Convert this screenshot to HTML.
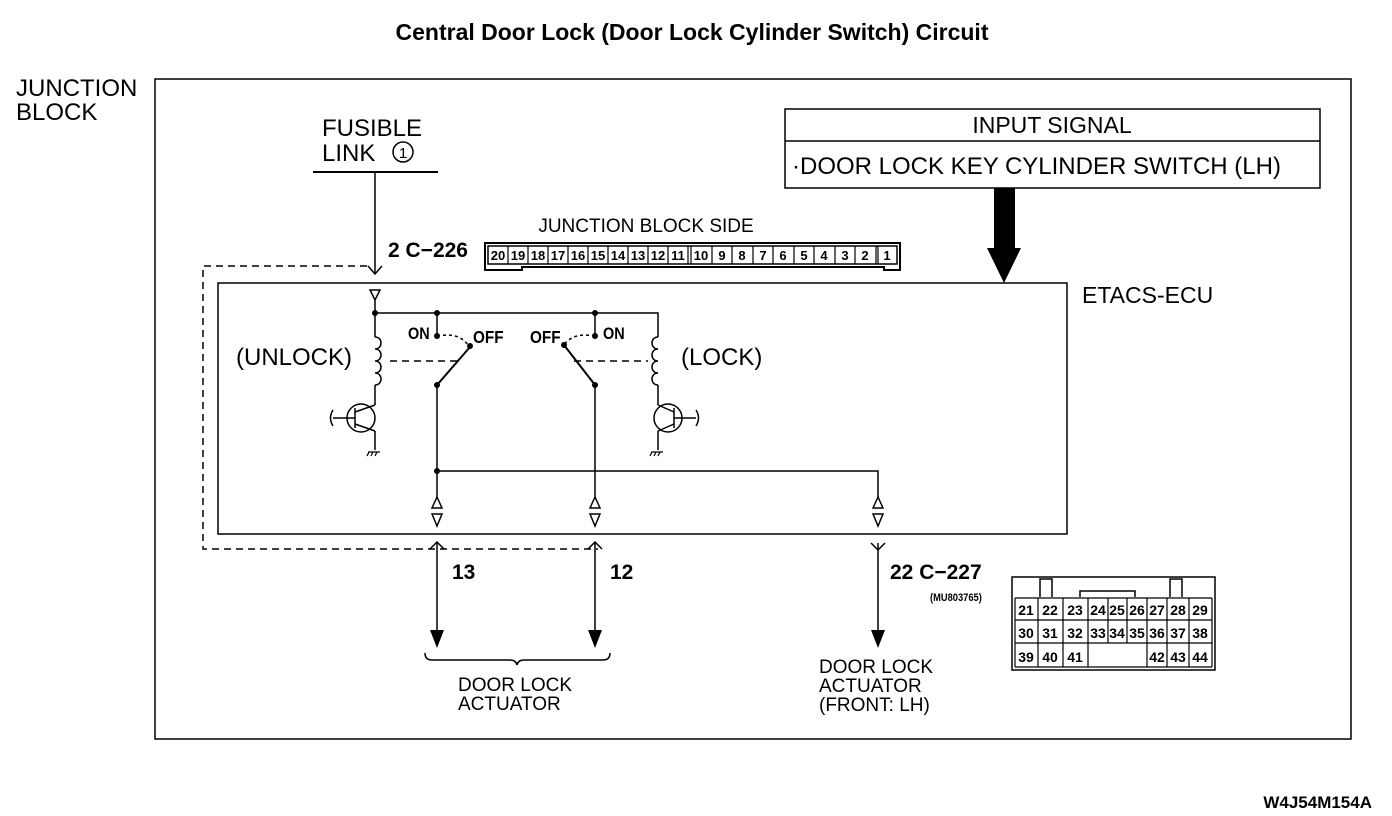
<!DOCTYPE html>
<html><head><meta charset="utf-8"><style>
html,body{margin:0;padding:0;background:#fff}
svg{display:block}
text{font-family:"Liberation Sans",sans-serif;fill:#000}
</style></head><body>
<svg width="1392" height="816" viewBox="0 0 1392 816" xmlns="http://www.w3.org/2000/svg">
<g fill="none" stroke="#000" stroke-width="1.5">
<rect x="155" y="79" width="1196" height="660"/>
<rect x="218" y="283" width="849" height="251"/>
<rect x="785" y="109" width="535" height="79"/>
<line x1="785" y1="141" x2="1320" y2="141"/>
<line x1="313" y1="172" x2="438" y2="172" stroke-width="2"/>
<line x1="375" y1="172" x2="375" y2="274"/>
<polyline points="368,266 375,274 382,266"/>
<circle cx="403" cy="152" r="10"/>
<polyline points="367,266 203,266 203,549 598,549" stroke-dasharray="7,5"/>
<polygon points="370,290 380,290 375,300"/>
<line x1="375" y1="300" x2="375" y2="313"/>
<polyline points="375,313 658,313 658,337"/>
<line x1="375" y1="313" x2="375" y2="337"/>
<path d="M375,337 c8,0 8,12 0,12 c8,0 8,12 0,12 c8,0 8,12 0,12 c8,0 8,12 0,12 M375,385 v20"/>
<path d="M658,337 c-8,0 -8,12 0,12 c-8,0 -8,12 0,12 c-8,0 -8,12 0,12 c-8,0 -8,12 0,12 M658,385 v20"/>
<circle cx="361" cy="418" r="14"/>
<line x1="355" y1="408" x2="355" y2="428"/>
<line x1="333" y1="418" x2="355" y2="418"/>
<path d="M333,410 q-5,8 0,16"/>
<line x1="355" y1="412" x2="375" y2="405"/>
<line x1="355" y1="424" x2="375" y2="431"/>
<line x1="375" y1="431" x2="375" y2="450"/>
<circle cx="668" cy="418" r="14"/>
<line x1="674" y1="408" x2="674" y2="428"/>
<line x1="674" y1="418" x2="696" y2="418"/>
<path d="M696,410 q5,8 0,16"/>
<line x1="674" y1="412" x2="658" y2="405"/>
<line x1="674" y1="424" x2="658" y2="431"/>
<line x1="658" y1="431" x2="658" y2="450"/>
<path d="M368,452 h12 M369,452 l-2,4 M373,452 l-2,4 M377,452 l-2,4" stroke-width="1.2"/>
<path d="M651,452 h12 M652,452 l-2,4 M656,452 l-2,4 M660,452 l-2,4" stroke-width="1.2"/>
<line x1="437" y1="313" x2="437" y2="336"/>
<line x1="595" y1="313" x2="595" y2="336"/>
<path d="M437,336 q22,-4 31,9" stroke-dasharray="3,3"/>
<path d="M595,336 q-22,-4 -31,9" stroke-dasharray="3,3"/>
<line x1="437" y1="385" x2="470" y2="347" stroke-width="2"/>
<line x1="595" y1="385" x2="564" y2="345" stroke-width="2"/>
<line x1="390" y1="361" x2="462" y2="361" stroke-dasharray="7,5"/>
<line x1="574" y1="361" x2="648" y2="361" stroke-dasharray="7,5"/>
<line x1="437" y1="385" x2="437" y2="497"/>
<line x1="595" y1="385" x2="595" y2="497"/>
<polyline points="437,471 878,471 878,497"/>
<polygon points="432,508 442,508 437,497"/>
<polygon points="432,514 442,514 437,526"/>
<polygon points="590,508 600,508 595,497"/>
<polygon points="590,514 600,514 595,526"/>
<polygon points="873,508 883,508 878,497"/>
<polygon points="873,514 883,514 878,526"/>
<polyline points="430,549 437,542 444,549"/>
<polyline points="588,549 595,542 602,549"/>
<polyline points="871,543 878,550 885,543"/>
<line x1="437" y1="542" x2="437" y2="632"/>
<line x1="595" y1="542" x2="595" y2="632"/>
<line x1="878" y1="543" x2="878" y2="632"/>
<path d="M425,653 q0,7 7,7 h78 q6,0 7,5 q1,-5 7,-5 h79 q7,0 7,-7"/>
<path d="M485,243 h415 v27 h-16 v-3 h-362 v3 h-37 z" stroke-width="2"/>
<rect x="488" y="246" width="409" height="18"/>
<rect x="1012" y="577" width="203" height="93"/>
<path d="M1040,597 v-18 h12 v18 M1170,597 v-18 h12 v18 M1080,597 v-6 h55 v6"/>
</g>
<g fill="#000">
<circle cx="375" cy="313" r="3"/><circle cx="437" cy="313" r="3"/><circle cx="595" cy="313" r="3"/>
<circle cx="437" cy="336" r="3"/><circle cx="595" cy="336" r="3"/>
<circle cx="470" cy="346" r="3"/><circle cx="564" cy="345" r="3"/>
<circle cx="437" cy="385" r="3"/><circle cx="595" cy="385" r="3"/>
<circle cx="437" cy="471" r="3"/>
<polygon points="430,630 444,630 437,648"/>
<polygon points="588,630 602,630 595,648"/>
<polygon points="871,630 885,630 878,648"/>
<rect x="994" y="188" width="21" height="62"/>
<polygon points="987,248 1021,248 1004,283"/>
</g>
<text x="692" y="40" text-anchor="middle" font-size="23" font-weight="bold">Central Door Lock (Door Lock Cylinder Switch) Circuit</text>
<text x="16" y="96" font-size="24">JUNCTION</text>
<text x="16" y="120" font-size="24">BLOCK</text>
<text x="322" y="136" font-size="24">FUSIBLE</text>
<text x="322" y="161" font-size="24">LINK</text>
<text x="403" y="158" font-size="15" text-anchor="middle">1</text>
<text x="1052" y="133" font-size="23" text-anchor="middle">INPUT SIGNAL</text>
<text x="792" y="174" font-size="24">·DOOR LOCK KEY CYLINDER SWITCH (LH)</text>
<text x="1082" y="303" font-size="23">ETACS-ECU</text>
<text x="646" y="232" font-size="19" text-anchor="middle">JUNCTION BLOCK SIDE</text>
<text x="236" y="365" font-size="24">(UNLOCK)</text>
<text x="681" y="365" font-size="24">(LOCK)</text>
<g font-weight="bold" font-size="21">
<text x="388" y="257">2  C−226</text>
<text x="452" y="579">13</text>
<text x="610" y="579">12</text>
<text x="890" y="579">22  C−227</text>
<text x="408" y="339" font-size="17" transform="translate(408,0) scale(0.85,1) translate(-408,0)">ON</text>
<text x="473" y="343" font-size="18" transform="translate(473,0) scale(0.85,1) translate(-473,0)">OFF</text>
<text x="530" y="343" font-size="18" transform="translate(530,0) scale(0.85,1) translate(-530,0)">OFF</text>
<text x="603" y="339" font-size="17" transform="translate(603,0) scale(0.85,1) translate(-603,0)">ON</text>
<text x="1372" y="808" font-size="17" text-anchor="end">W4J54M154A</text>
<text x="930" y="601" font-size="11" transform="translate(930,0) scale(0.85,1) translate(-930,0)">(MU803765)</text>
</g>
<text x="458" y="691" font-size="19">DOOR LOCK</text>
<text x="458" y="710" font-size="19">ACTUATOR</text>
<text x="819" y="673" font-size="19">DOOR LOCK</text>
<text x="819" y="692" font-size="19">ACTUATOR</text>
<text x="819" y="711" font-size="19">(FRONT: LH)</text>
<g fill="none" stroke="#000" stroke-width="1.2">
<path d="M508,246v18M528,246v18M548,246v18M568,246v18M588,246v18M608,246v18M628,246v18M648,246v18M668,246v18M688,246v18M691,246v18M712,246v18M732,246v18M753,246v18M773,246v18M794,246v18M814,246v18M835,246v18M855,246v18M876,246v18M878,246v18"/>
</g>
<g font-size="13" font-weight="bold" text-anchor="middle">
<text x="498" y="260">20</text><text x="518" y="260">19</text><text x="538" y="260">18</text><text x="558" y="260">17</text><text x="578" y="260">16</text><text x="598" y="260">15</text><text x="618" y="260">14</text><text x="638" y="260">13</text><text x="658" y="260">12</text><text x="678" y="260">11</text><text x="701" y="260">10</text><text x="722" y="260">9</text><text x="742" y="260">8</text><text x="763" y="260">7</text><text x="783" y="260">6</text><text x="804" y="260">5</text><text x="824" y="260">4</text><text x="845" y="260">3</text><text x="865" y="260">2</text><text x="887" y="260">1</text>
</g>
<g fill="none" stroke="#000" stroke-width="1.2">
<path d="M1015,598 h197 M1015,620 h197 M1015,643 h197 M1015,667 h197"/>
<path d="M1015,598v69 M1038,598v69 M1063,598v69 M1088,598v69 M1108,598v45 M1127,598v45 M1147,598v69 M1167,598v69 M1189,598v69 M1212,598v69"/>
</g>
<g font-size="14" font-weight="bold" text-anchor="middle">
<text x="1026" y="615">21</text><text x="1050" y="615">22</text><text x="1075" y="615">23</text><text x="1098" y="615">24</text><text x="1117" y="615">25</text><text x="1137" y="615">26</text><text x="1157" y="615">27</text><text x="1178" y="615">28</text><text x="1200" y="615">29</text>
<text x="1026" y="638">30</text><text x="1050" y="638">31</text><text x="1075" y="638">32</text><text x="1098" y="638">33</text><text x="1117" y="638">34</text><text x="1137" y="638">35</text><text x="1157" y="638">36</text><text x="1178" y="638">37</text><text x="1200" y="638">38</text>
<text x="1026" y="662">39</text><text x="1050" y="662">40</text><text x="1075" y="662">41</text><text x="1157" y="662">42</text><text x="1178" y="662">43</text><text x="1200" y="662">44</text>
</g>
</svg>
</body></html>
